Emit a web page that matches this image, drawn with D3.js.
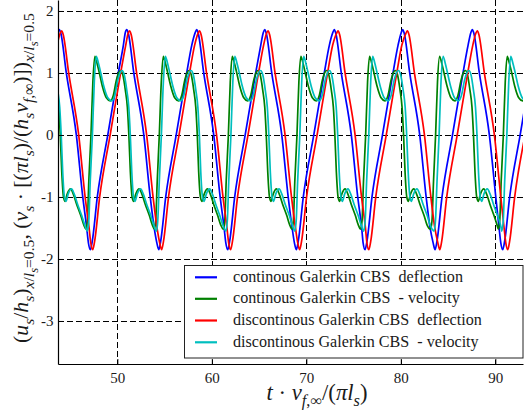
<!DOCTYPE html>
<html>
<head>
<meta charset="utf-8">
<script src="https://cdn.jsdelivr.net/npm/d3@7"></script>
<style>
  body { margin: 0; background: #fff; }
  svg text { font-family: "Liberation Serif", "Times New Roman", Tinos, "DejaVu Serif", "Noto Serif", serif !important; fill: #1a1a1a; }
</style>
</head>
<body>
<svg id="chart"></svg>
<script>
// Deflection / velocity at x/l_s = 0.5
const xTicks = [50, 60, 70, 80, 90];
const yTicks = [-3, -2, -1, 0, 1, 2];

const legendLabels = [
  'continous Galerkin CBS  deflection',
  'continous Galerkin CBS  - velocity',
  'discontinous Galerkin CBS  deflection',
  'discontinous Galerkin CBS  - velocity'
];

// [t, value]
const contDeflection = [
  [43.38,1.45],[43.70,1.65],[43.86,1.70],[44.02,1.64],[44.60,1.00],[45.66,0.00],[46.34,-1.00],[46.76,-1.50],[46.94,-1.74],[47.14,-1.85],[47.34,-1.72],[47.88,-1.00],[48.99,0.00],[50.10,1.00],[50.64,1.45],
  [50.84,1.65],[51.00,1.70],[51.16,1.64],[51.74,1.00],[52.80,0.00],[53.48,-1.00],[53.90,-1.50],[54.18,-1.74],[54.38,-1.85],[54.58,-1.72],[55.12,-1.00],[56.23,0.00],[57.34,1.00],[57.88,1.45],
  [58.24,1.65],[58.40,1.70],[58.56,1.64],[59.14,1.00],[60.20,0.00],[60.88,-1.00],[61.30,-1.50],[61.48,-1.74],[61.68,-1.85],[61.88,-1.72],[62.42,-1.00],[63.53,0.00],[64.64,1.00],[65.18,1.45],
  [65.44,1.65],[65.60,1.70],[65.76,1.64],[66.34,1.00],[67.40,0.00],[68.08,-1.00],[68.50,-1.50],[68.74,-1.74],[68.94,-1.85],[69.14,-1.72],[69.68,-1.00],[70.79,0.00],[71.90,1.00],[72.44,1.45],
  [72.80,1.65],[72.96,1.70],[73.12,1.64],[73.70,1.00],[74.76,0.00],[75.44,-1.00],[75.86,-1.50],[76.01,-1.74],[76.21,-1.85],[76.41,-1.72],[76.95,-1.00],[78.06,0.00],[79.17,1.00],[79.71,1.45],
  [80.04,1.65],[80.20,1.70],[80.36,1.64],[80.94,1.00],[82.00,0.00],[82.68,-1.00],[83.10,-1.50],[83.42,-1.74],[83.62,-1.85],[83.82,-1.72],[84.36,-1.00],[85.47,0.00],[86.58,1.00],[87.12,1.45],
  [87.41,1.65],[87.57,1.70],[87.73,1.64],[88.31,1.00],[89.37,0.00],[90.05,-1.00],[90.40,-1.50],[90.58,-1.74],[90.78,-1.85],[90.98,-1.72],[91.52,-1.00],[92.63,0.00],[93.74,1.00]
];

const contVelocity = [
  [43.09,1.04],[43.32,0.97],[43.59,0.72],[43.80,0.45],[43.96,0.00],[44.12,-0.60],[44.30,-1.00],[44.46,-1.07],[44.70,-0.95],[45.05,-0.87],[45.33,-0.95],[45.70,-1.12],[46.13,-1.30],[46.45,-1.45],
  [46.68,-1.52],[46.83,-1.38],[46.98,-0.75],[47.21,0.00],[47.41,0.85],[47.62,1.27],[47.83,1.17],[48.10,1.00],[48.41,0.79],[48.84,0.60],[49.26,0.55],[49.58,0.64],[49.89,0.88],[50.16,1.01],[50.35,1.04],[50.58,0.97],[50.85,0.72],[51.06,0.45],[51.22,0.00],[51.38,-0.60],[51.56,-1.00],[51.71,-1.07],[51.96,-0.95],[52.31,-0.87],[52.59,-0.95],[52.96,-1.12],[53.39,-1.30],[53.70,-1.45],
  [53.92,-1.52],[54.06,-1.38],[54.22,-0.75],[54.44,0.00],[54.65,0.85],[54.86,1.27],[55.07,1.17],[55.33,1.00],[55.65,0.79],[56.07,0.60],[56.50,0.55],[56.82,0.64],[57.13,0.88],[57.40,1.01],[57.59,1.04],[57.82,0.97],[58.09,0.72],[58.30,0.45],[58.46,0.00],[58.61,-0.60],[58.79,-1.00],[58.95,-1.07],[59.20,-0.95],[59.55,-0.87],[59.83,-0.95],[60.20,-1.12],[60.62,-1.30],[60.94,-1.45],
  [61.22,-1.52],[61.37,-1.38],[61.52,-0.75],[61.75,0.00],[61.95,0.85],[62.16,1.27],[62.37,1.17],[62.64,1.00],[62.95,0.79],[63.38,0.60],[63.80,0.55],[64.12,0.64],[64.43,0.88],[64.70,1.01],[64.89,1.04],[65.12,0.97],[65.39,0.72],[65.60,0.45],[65.76,0.00],[65.92,-0.60],[66.10,-1.00],[66.25,-1.07],[66.50,-0.95],[66.85,-0.87],[67.13,-0.95],[67.50,-1.12],[67.93,-1.30],[68.24,-1.45],
  [68.48,-1.52],[68.63,-1.38],[68.78,-0.75],[69.01,0.00],[69.21,0.85],[69.42,1.27],[69.63,1.17],[69.89,1.00],[70.21,0.79],[70.64,0.60],[71.06,0.55],[71.38,0.64],[71.69,0.88],[71.96,1.01],[72.15,1.04],[72.38,0.97],[72.65,0.72],[72.86,0.45],[73.02,0.00],[73.18,-0.60],[73.36,-1.00],[73.51,-1.07],[73.76,-0.95],[74.11,-0.87],[74.39,-0.95],[74.76,-1.12],[75.19,-1.30],[75.50,-1.45],
  [75.75,-1.52],[75.90,-1.38],[76.05,-0.75],[76.28,0.00],[76.48,0.85],[76.69,1.27],[76.90,1.17],[77.16,1.00],[77.48,0.79],[77.91,0.60],[78.33,0.55],[78.65,0.64],[78.96,0.88],[79.23,1.01],[79.42,1.04],[79.65,0.97],[79.92,0.72],[80.13,0.45],[80.29,0.00],[80.45,-0.60],[80.63,-1.00],[80.78,-1.07],[81.03,-0.95],[81.38,-0.87],[81.66,-0.95],[82.03,-1.12],[82.46,-1.30],[82.77,-1.45],
  [83.15,-1.52],[83.30,-1.38],[83.46,-0.75],[83.68,0.00],[83.88,0.85],[84.10,1.27],[84.31,1.17],[84.57,1.00],[84.89,0.79],[85.31,0.60],[85.74,0.55],[86.05,0.64],[86.37,0.88],[86.64,1.01],[86.83,1.04],[87.06,0.97],[87.32,0.72],[87.53,0.45],[87.69,0.00],[87.85,-0.60],[88.03,-1.00],[88.19,-1.07],[88.43,-0.95],[88.78,-0.87],[89.07,-0.95],[89.44,-1.12],[89.86,-1.30],[90.18,-1.45],
  [90.32,-1.52],[90.47,-1.38],[90.62,-0.75],[90.85,0.00],[91.05,0.85],[91.26,1.27],[91.47,1.17],[91.74,1.00],[92.05,0.79],[92.48,0.60],[92.90,0.55],[93.22,0.64]
];

const discDeflection = [
  [43.63,1.45],[43.95,1.64],[44.11,1.68],[44.27,1.62],[44.85,1.00],[45.91,0.00],[46.59,-1.00],[47.01,-1.50],[47.19,-1.74],[47.39,-1.85],[47.59,-1.72],[48.13,-1.00],[49.24,0.00],[50.35,1.00],[50.89,1.45],
  [51.14,1.64],[51.30,1.68],[51.46,1.62],[52.04,1.00],[53.10,0.00],[53.78,-1.00],[54.20,-1.50],[54.48,-1.74],[54.68,-1.85],[54.88,-1.72],[55.42,-1.00],[56.53,0.00],[57.64,1.00],[58.18,1.45],
  [58.54,1.64],[58.70,1.68],[58.86,1.62],[59.44,1.00],[60.50,0.00],[61.18,-1.00],[61.60,-1.50],[61.78,-1.74],[61.98,-1.85],[62.18,-1.72],[62.72,-1.00],[63.83,0.00],[64.94,1.00],[65.48,1.45],
  [65.79,1.64],[65.95,1.68],[66.11,1.62],[66.69,1.00],[67.75,0.00],[68.43,-1.00],[68.85,-1.50],[69.09,-1.74],[69.29,-1.85],[69.49,-1.72],[70.03,-1.00],[71.14,0.00],[72.25,1.00],[72.79,1.45],
  [73.20,1.64],[73.36,1.68],[73.52,1.62],[74.10,1.00],[75.16,0.00],[75.84,-1.00],[76.26,-1.50],[76.41,-1.74],[76.61,-1.85],[76.81,-1.72],[77.35,-1.00],[78.46,0.00],[79.57,1.00],[80.11,1.45],
  [80.54,1.64],[80.70,1.68],[80.86,1.62],[81.44,1.00],[82.50,0.00],[83.18,-1.00],[83.60,-1.50],[83.92,-1.74],[84.12,-1.85],[84.32,-1.72],[84.86,-1.00],[85.97,0.00],[87.08,1.00],[87.62,1.45],
  [87.94,1.64],[88.10,1.68],[88.26,1.62],[88.84,1.00],[89.90,0.00],[90.58,-1.00],[90.93,-1.50],[91.11,-1.74],[91.31,-1.85],[91.51,-1.72],[92.05,-1.00],[93.16,0.00]
];

const discVelocity = [
  [43.19,1.04],[43.42,0.97],[43.69,0.72],[43.90,0.45],[44.06,0.00],[44.22,-0.60],[44.40,-1.00],[44.56,-1.07],[44.80,-0.95],[45.15,-0.87],[45.43,-0.95],[45.80,-1.12],[46.23,-1.30],[46.55,-1.45],
  [46.83,-1.55],[46.98,-1.38],[47.13,-0.75],[47.36,0.00],[47.56,0.85],[47.77,1.27],[47.98,1.17],[48.25,1.00],[48.56,0.79],[48.99,0.60],[49.41,0.55],[49.73,0.64],[50.04,0.88],[50.31,1.01],[50.50,1.04],[50.73,0.97],[51.00,0.72],[51.21,0.45],[51.37,0.00],[51.53,-0.60],[51.71,-1.00],[51.86,-1.07],[52.11,-0.95],[52.46,-0.87],[52.74,-0.95],[53.11,-1.12],[53.54,-1.30],[53.85,-1.45],
  [54.14,-1.55],[54.28,-1.38],[54.44,-0.75],[54.66,0.00],[54.87,0.85],[55.08,1.27],[55.29,1.17],[55.55,1.00],[55.87,0.79],[56.29,0.60],[56.72,0.55],[57.04,0.64],[57.35,0.88],[57.62,1.01],[57.81,1.04],[58.04,0.97],[58.31,0.72],[58.52,0.45],[58.68,0.00],[58.83,-0.60],[59.01,-1.00],[59.17,-1.07],[59.42,-0.95],[59.77,-0.87],[60.05,-0.95],[60.42,-1.12],[60.84,-1.30],[61.16,-1.45],
  [61.49,-1.55],[61.64,-1.38],[61.79,-0.75],[62.02,0.00],[62.22,0.85],[62.43,1.27],[62.64,1.17],[62.91,1.00],[63.22,0.79],[63.65,0.60],[64.07,0.55],[64.39,0.64],[64.70,0.88],[64.97,1.01],[65.16,1.04],[65.39,0.97],[65.66,0.72],[65.87,0.45],[66.03,0.00],[66.19,-0.60],[66.37,-1.00],[66.52,-1.07],[66.77,-0.95],[67.12,-0.87],[67.40,-0.95],[67.77,-1.12],[68.20,-1.30],[68.51,-1.45],
  [68.78,-1.55],[68.93,-1.38],[69.08,-0.75],[69.31,0.00],[69.51,0.85],[69.72,1.27],[69.93,1.17],[70.19,1.00],[70.51,0.79],[70.94,0.60],[71.36,0.55],[71.68,0.64],[71.99,0.88],[72.26,1.01],[72.45,1.04],[72.68,0.97],[72.95,0.72],[73.16,0.45],[73.32,0.00],[73.48,-0.60],[73.66,-1.00],[73.81,-1.07],[74.06,-0.95],[74.41,-0.87],[74.69,-0.95],[75.06,-1.12],[75.49,-1.30],[75.80,-1.45],
  [76.08,-1.55],[76.23,-1.38],[76.38,-0.75],[76.61,0.00],[76.81,0.85],[77.02,1.27],[77.23,1.17],[77.49,1.00],[77.81,0.79],[78.24,0.60],[78.66,0.55],[78.98,0.64],[79.29,0.88],[79.56,1.01],[79.75,1.04],[79.98,0.97],[80.25,0.72],[80.46,0.45],[80.62,0.00],[80.78,-0.60],[80.96,-1.00],[81.11,-1.07],[81.36,-0.95],[81.71,-0.87],[81.99,-0.95],[82.36,-1.12],[82.79,-1.30],[83.10,-1.45],
  [83.52,-1.55],[83.67,-1.38],[83.83,-0.75],[84.05,0.00],[84.25,0.85],[84.47,1.27],[84.68,1.17],[84.94,1.00],[85.26,0.79],[85.68,0.60],[86.11,0.55],[86.42,0.64],[86.74,0.88],[87.01,1.01],[87.20,1.04],[87.43,0.97],[87.69,0.72],[87.90,0.45],[88.06,0.00],[88.22,-0.60],[88.40,-1.00],[88.56,-1.07],[88.80,-0.95],[89.15,-0.87],[89.44,-0.95],[89.81,-1.12],[90.23,-1.30],[90.55,-1.45],
  [90.69,-1.55],[90.84,-1.38],[90.99,-0.75],[91.22,0.00],[91.42,0.85],[91.63,1.27],[91.84,1.17],[92.11,1.00],[92.42,0.79],[92.85,0.60],[93.27,0.55],[93.59,0.64]
];

const series = [
  { data: contDeflection, color: '#0000ff' },
  { data: contVelocity,   color: '#008000' },
  { data: discDeflection, color: '#ff0000' },
  { data: discVelocity,   color: '#00bfbf' }
];
const legendColors = ['#0000ff', '#008000', '#ff0000', '#00bfbf'];

const SERIF = '"Liberation Serif", "Times New Roman", Tinos, "DejaVu Serif", "Noto Serif", serif';

// layout
const margin = { top: 0, right: 1, bottom: 51, left: 58 };
const W = 524, H = 415;
const width = W - margin.left - margin.right;
const height = H - margin.top - margin.bottom;

const svg = d3.select('#chart').attr('width', W).attr('height', H);
const g = svg.append('g').attr('transform', `translate(${margin.left},${margin.top})`);

const x = d3.scaleLinear().domain([43.72, 92.93]).range([0, width]);
const y = d3.scaleLinear().domain([-3.694, 2.177]).range([height, 0]);

// grid
g.append('g').selectAll('line').data(yTicks).join('line')
  .attr('x1', 0).attr('x2', width)
  .attr('y1', d => Math.round(y(d)) + 0.5).attr('y2', d => Math.round(y(d)) + 0.5)
  .attr('stroke', '#000').attr('stroke-width', 1).attr('stroke-dasharray', '6,3');
g.append('g').selectAll('line').data(xTicks).join('line')
  .attr('x1', d => Math.round(x(d)) + 0.5).attr('x2', d => Math.round(x(d)) + 0.5)
  .attr('y1', 0).attr('y2', height)
  .attr('stroke', '#000').attr('stroke-width', 1).attr('stroke-dasharray', '6,3');

// curves
svg.append('defs').append('clipPath').attr('id', 'plotclip')
  .append('rect').attr('x', 0).attr('y', 0).attr('width', width).attr('height', height);

const line = d3.line()
  .x(d => x(d[0]))
  .y(d => y(d[1]))
  .curve(d3.curveMonotoneX);

const curves = g.append('g').attr('clip-path', 'url(#plotclip)');
series.forEach(s => {
  curves.append('path')
    .datum(s.data)
    .attr('fill', 'none')
    .attr('stroke', s.color)
    .attr('stroke-width', 1.7)
    .attr('stroke-linejoin', 'round')
    .attr('d', line);
});

// axes (ticks pointing inward)
const xAxis = g.append('g')
  .attr('transform', `translate(0,${height})`)
  .call(d3.axisBottom(x).tickValues(xTicks).tickSizeInner(-5).tickSizeOuter(0).tickPadding(8.5).tickFormat(d3.format('d')));
const yAxis = g.append('g')
  .call(d3.axisLeft(y).tickValues(yTicks).tickSizeInner(-5).tickSizeOuter(0).tickPadding(4.5).tickFormat(d => d < 0 ? '-' + Math.abs(d) : String(d)));

[xAxis, yAxis].forEach(a => {
  a.attr('font-family', SERIF).attr('font-size', 15);
  a.select('.domain').attr('stroke', '#000').attr('stroke-width', 1.2);
  a.selectAll('.tick line').attr('stroke', '#000');
  a.selectAll('.tick text').attr('fill', '#1a1a1a');
});

// legend
const legend = svg.append('g').attr('font-family', SERIF);
legend.append('rect')
  .attr('x', 184.5).attr('y', 265.5).attr('width', 338.5).attr('height', 92.5)
  .attr('fill', '#fff').attr('stroke', '#222').attr('stroke-width', 1);
const rowY = [277.3, 298.8, 320.5, 342.3];
legendLabels.forEach((lab, i) => {
  legend.append('line')
    .attr('x1', 195).attr('x2', 217)
    .attr('y1', rowY[i]).attr('y2', rowY[i])
    .attr('stroke', legendColors[i]).attr('stroke-width', 2.2);
});
const legendText = legend.selectAll('text.lab').data(legendLabels).join('text')
  .attr('class', 'lab')
  .attr('x', 233)
  .attr('y', (d, i) => rowY[i] + 4.6)
  .style('white-space', 'pre')
  .style('font-size', '14px')
  .text(d => d);
// scale legend font so the longest row spans the same width as the original
const ref = legendText.nodes()[2].getComputedTextLength();
legendText.style('font-size', (14 * 249 / ref) + 'px');

// math-style labels with sub/subsubscripts
function mathText(text, parts, fs) {
  text.selectAll('tspan').remove();
  const off = [0, 0.28 * fs, 0.46 * fs];
  const size = [fs, 0.72 * fs, 0.58 * fs];
  let prev = 0;
  parts.forEach(([s, st, lv]) => {
    text.append('tspan')
      .attr('dy', off[lv] - off[prev])
      .style('font-size', size[lv] + 'px')
      .style('font-style', st === 'i' ? 'italic' : 'normal')
      .text(s);
    prev = lv;
  });
}
function fitMath(text, parts, target) {
  let fs = 16;
  mathText(text, parts, fs);
  const len = text.node().getComputedTextLength();
  fs = fs * target / len;
  mathText(text, parts, fs);
}

const xTitleParts = [
  ['t', 'i', 0], [' \u00b7 ', 'n', 0], ['v', 'i', 0], ['f', 'i', 1], [',\u221e', 'n', 1],
  ['/(', 'n', 0], ['\u03c0', 'i', 0], ['l', 'i', 0], ['s', 'i', 1], [')', 'n', 0]
];
const yTitleParts = [
  ['(', 'n', 0], ['u', 'i', 0], ['s', 'i', 1], ['/', 'n', 0], ['h', 'i', 0], ['s', 'i', 1], [')', 'n', 0],
  ['x', 'i', 1], ['/', 'n', 1], ['l', 'i', 1], ['s', 'i', 2], ['=0.5', 'n', 1],
  [', (', 'n', 0], ['v', 'i', 0], ['s', 'i', 1], [' \u00b7 [(', 'n', 0], ['\u03c0', 'i', 0], ['l', 'i', 0], ['s', 'i', 1],
  [')/(', 'n', 0], ['h', 'i', 0], ['s', 'i', 1], ['v', 'i', 0], ['f', 'i', 1], [',\u221e', 'n', 1], [')])', 'n', 0],
  ['x', 'i', 1], ['/', 'n', 1], ['l', 'i', 1], ['s', 'i', 2], ['=0.5', 'n', 1]
];

const xTitle = svg.append('text')
  .attr('x', 317).attr('y', 400)
  .attr('text-anchor', 'middle')
  .attr('font-family', SERIF)
  .style('white-space', 'pre');
fitMath(xTitle, xTitleParts, 101);

const yTitle = svg.append('text')
  .attr('transform', 'translate(28,178) rotate(-90)')
  .attr('text-anchor', 'middle')
  .attr('font-family', SERIF)
  .style('white-space', 'pre');
fitMath(yTitle, yTitleParts, 330);
</script>
</body>
</html>
